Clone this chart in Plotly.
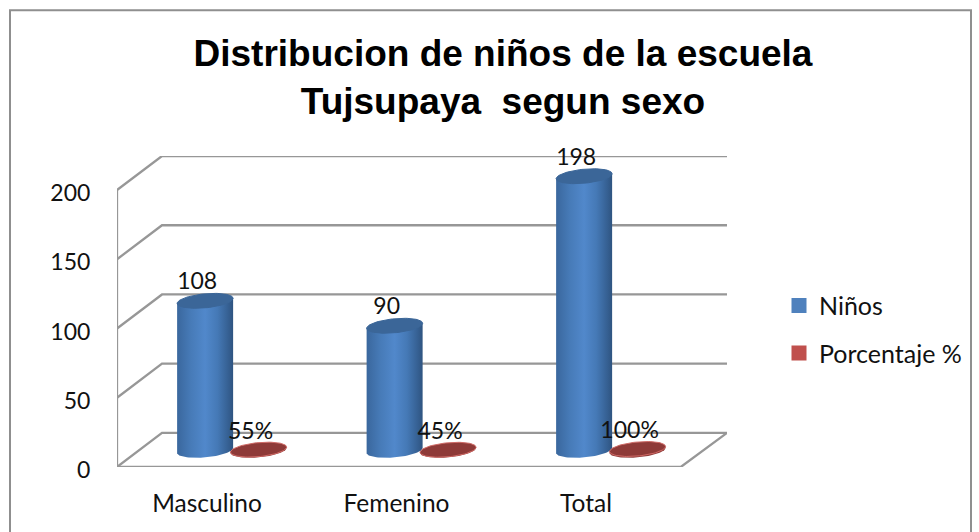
import numpy as np
import plotly.graph_objects as go

categories = ["Masculino", "Femenino", "Total"]
ninos = [108, 90, 198]
porcentaje = [0.55, 0.45, 1.0]
porcentaje_labels = ["55%", "45%", "100%"]
y_ticks = [0, 50, 100, 150, 200]
title = "Distribucion de niños de la escuela<br>Tujsupaya  segun sexo"

W, H = 979, 532
L, R, T, B = 117, 727, 156, 467.5
XMIN, XMAX = -0.475, 2.744
DZ = 24.6
FRONT_R = 2.50
BACK_L = XMIN + 45 / 189.5
BASE = 12.0
GRID = "#979797"
TXT = "#111111"
FONT = "Lato"

def px2paper_x(p):
    return (p - L) / (R - L)

def px2paper_y(p):
    return (B - p) / (B - T)

fig = go.Figure()

# walls and floor
for v in y_ticks:
    fig.add_trace(go.Scatter(
        x=[XMIN, BACK_L, XMAX], y=[v, v + DZ, v + DZ], mode="lines",
        line=dict(color=GRID, width=2.3), showlegend=False, hoverinfo="skip", cliponaxis=False))
fig.add_trace(go.Scatter(
    x=[XMIN, XMIN, None, XMIN, FRONT_R, XMAX], y=[y_ticks[-1], 0, None, 0, 0, DZ], mode="lines",
    line=dict(color=GRID, width=2.3), showlegend=False, hoverinfo="skip", cliponaxis=False))

t = np.linspace(0, 2 * np.pi, 81)
A, Bb, K = 28 / 189.5, 7 / 1.38, 2.5 / 1.38

def ell_y(level, tt):
    return level + Bb * np.sin(tt) + K * np.cos(tt)

def cylinder(cx, value, stops, top, edge):
    lower = np.linspace(0, -np.pi, 41)
    xs = [cx - A, cx + A] + list(cx + A * np.cos(lower))
    ys = [BASE + value + ell_y(0, np.pi), BASE + value + ell_y(0, 0.0)] + list(ell_y(BASE, lower))
    xs.append(xs[0]); ys.append(ys[0])
    fig.add_trace(go.Scatter(
        x=xs, y=ys, mode="lines", fill="toself", line=dict(width=0, color=stops[0][1]),
        fillgradient=dict(type="horizontal", colorscale=stops),
        showlegend=False, hoverinfo="skip", cliponaxis=False))
    fig.add_trace(go.Scatter(
        x=cx + A * np.cos(t), y=ell_y(BASE + value, t), mode="lines", fill="toself",
        fillcolor=top, line=dict(width=1, color=edge),
        showlegend=False, hoverinfo="skip", cliponaxis=False))

blue_stops = [[0, "#3a679d"], [0.25, "#477bb8"], [0.5, "#5188cb"], [0.72, "#4579b6"], [0.92, "#355f91"], [1, "#2f5480"]]
red_stops = [[0, "#8e3a38"], [1, "#8e3a38"]]

for i in range(len(categories)):
    cylinder(i - 0.01, ninos[i], blue_stops, "#3b6698", "#3b6698")
for i in range(len(categories)):
    cylinder(i + 0.272, porcentaje[i], red_stops, "#8e3a38", "#cf6a66")

# data labels
fig.add_trace(go.Scatter(
    x=[i - 0.052 for i in range(3)], y=[v + BASE + 12.5 for v in ninos], mode="text",
    text=[str(v) for v in ninos], textposition="middle center",
    textfont=dict(family=FONT, size=23, color=TXT),
    showlegend=False, hoverinfo="skip", cliponaxis=False))
fig.add_trace(go.Scatter(
    x=[i + 0.23 for i in range(3)], y=[v + BASE + 12 for v in porcentaje], mode="text",
    text=porcentaje_labels, textposition="middle center",
    textfont=dict(family=FONT, size=23, color=TXT),
    showlegend=False, hoverinfo="skip", cliponaxis=False))

# legend
for name, col in [("Niños", "#4f81bd"), ("Porcentaje %", "#c0504d")]:
    fig.add_trace(go.Scatter(
        x=[None], y=[None], mode="markers", name=name, legendgroup=name,
        marker=dict(symbol="square", size=15, color=col)))

border = dict(type="rect", xref="paper", yref="paper",
              x0=px2paper_x(10), x1=px2paper_x(971),
              y0=px2paper_y(560), y1=px2paper_y(10),
              line=dict(color="#8f8f8f", width=2), layer="below")

fig.update_layout(
    width=W, height=H,
    margin=dict(l=L, r=W - R, t=T, b=H - B, autoexpand=False),
    paper_bgcolor="white", plot_bgcolor="white",
    font=dict(family=FONT, size=24, color=TXT),
    title=dict(text=title, x=503 / W, xanchor="center", y=0.8756, yanchor="bottom",
               font=dict(family="Liberation Sans", size=37, color="#000000", weight="bold")),
    xaxis=dict(range=[XMIN, XMAX], tickmode="array", tickvals=[0, 1, 2], ticktext=categories,
               showgrid=False, zeroline=False, showline=False,
               ticks="outside", ticklen=15, tickcolor="rgba(0,0,0,0)",
               tickfont=dict(family=FONT, size=24.5, color=TXT)),
    yaxis=dict(range=[0, y_ticks[-1] + DZ], tickmode="array", tickvals=y_ticks,
               showgrid=False, zeroline=False, showline=False,
               ticks="outside", ticklen=21, tickcolor="rgba(0,0,0,0)", ticklabelshift=3,
               tickfont=dict(family=FONT, size=23, color=TXT)),
    legend=dict(x=px2paper_x(779), y=px2paper_y(283), xanchor="left", yanchor="top",
                traceorder="grouped", tracegroupgap=12, bgcolor="rgba(0,0,0,0)",
                font=dict(family=FONT, size=25, color=TXT)),
    shapes=[border],
)

fig.write_html("out.html", config={"displayModeBar": False},
               post_script="document.body.style.margin='0';")
